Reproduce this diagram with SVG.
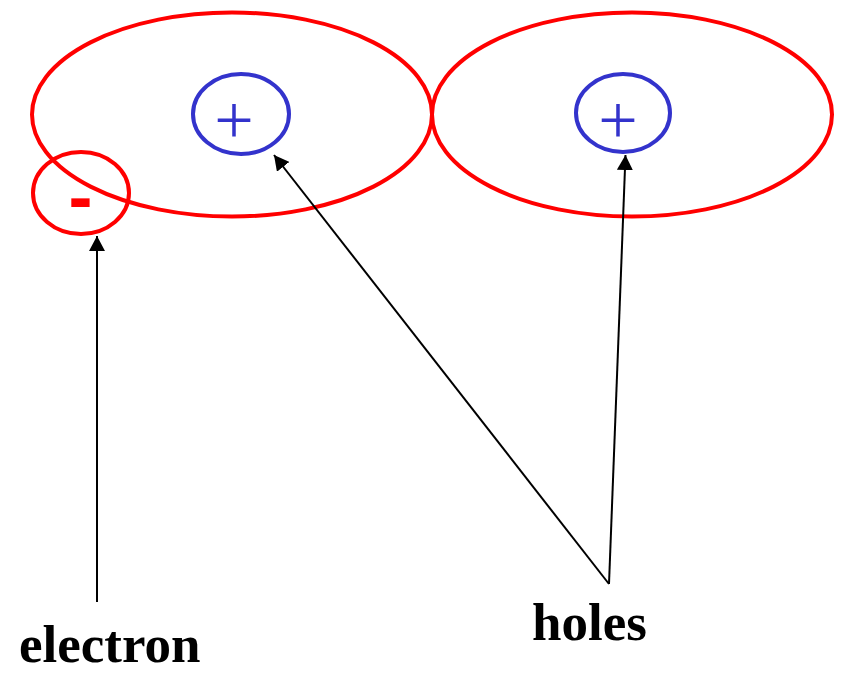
<svg xmlns="http://www.w3.org/2000/svg" width="842" height="674" viewBox="0 0 842 674">
<style>
.red{fill:none;stroke:#ff0000;stroke-width:4}
.blue{fill:none;stroke:#3333cc;stroke-width:4}
.plus{fill:#3333cc;font-family:"Liberation Serif",serif;font-size:70px;text-anchor:middle}
.minus{fill:#ff0000;font-family:"Liberation Sans",Arial,sans-serif;font-weight:bold;font-size:72px;text-anchor:middle}
.lbl{fill:#000;font-family:"Liberation Serif",serif;font-weight:bold;font-size:53px}
.conn{fill:none;stroke:#000;stroke-width:2}
</style>
<defs>
<marker id="ah" markerUnits="userSpaceOnUse" markerWidth="16" markerHeight="16" refX="15" refY="8" orient="auto">
<path d="M0,0 L15,8 L0,16 z" fill="#000"/>
</marker>
</defs>
<g id="atom1"><ellipse class="red" cx="232" cy="114.5" rx="200" ry="102"/></g>
<g id="atom2"><ellipse class="red" cx="632" cy="114.5" rx="200" ry="102"/></g>
<g id="hole1"><ellipse class="blue" cx="241" cy="114" rx="48" ry="40"/><text class="plus" x="234" y="144">+</text></g>
<g id="hole2"><ellipse class="blue" cx="623" cy="113" rx="47" ry="39"/><text class="plus" x="618" y="144">+</text></g>
<g id="electron"><ellipse class="red" cx="81" cy="193" rx="48" ry="41"/><text class="minus" x="80.5" y="221">-</text></g>
<g id="connectors">
<line class="conn" x1="97" y1="602" x2="97" y2="236" marker-end="url(#ah)"/>
<line class="conn" x1="609" y1="584" x2="274" y2="155" marker-end="url(#ah)"/>
<line class="conn" x1="609" y1="584" x2="625.5" y2="155" marker-end="url(#ah)"/>
</g>
<g id="label-electron"><text class="lbl" x="19" y="662">electron</text></g>
<g id="label-holes"><text class="lbl" x="532" y="640">holes</text></g>
</svg>
